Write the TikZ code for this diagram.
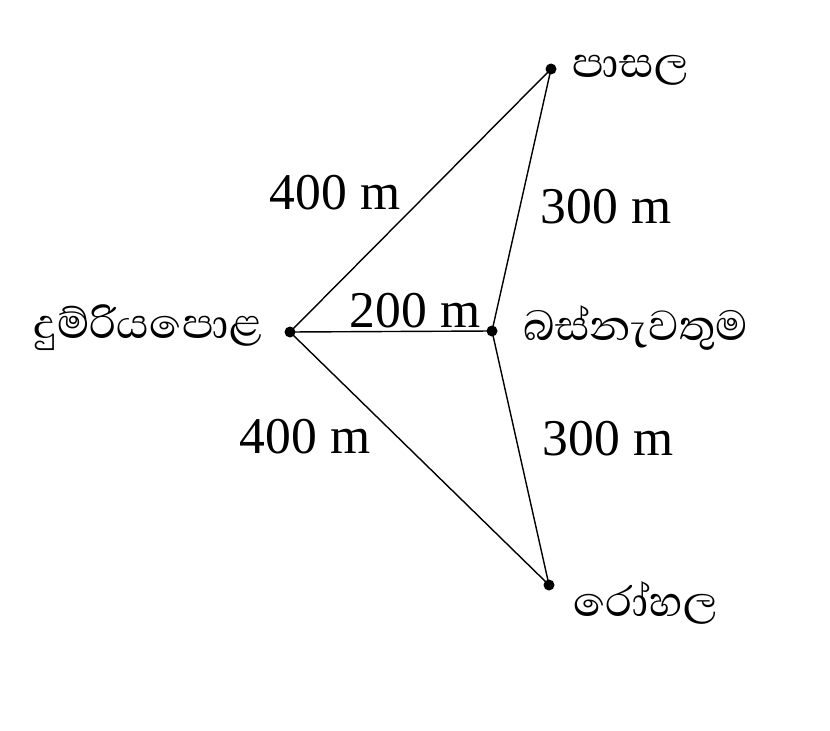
\documentclass[tikz,border=0pt]{standalone}
\usepackage{fontspec}
\setmainfont{Liberation Serif}
\newfontfamily\sinfont[Script=Sinhala]{Abhaya Libre}
\begin{document}
\begin{tikzpicture}[x=0.03cm,y=-0.03cm,
  dot/.style={circle,fill=black,inner sep=0pt,minimum size=0.33cm},
  place/.style={font=\sinfont\fontsize{46}{48}\selectfont,inner sep=0pt},
  dist/.style={font=\fontsize{44}{46}\selectfont,inner sep=0pt},
  edge/.style={line width=1.2pt}]
\useasboundingbox[fill=white] (0,0) rectangle (830,731);
\node[dot] (st) at (290,332) {};
\node[dot] (bs) at (492,331) {};
\node[dot] (sc) at (551,69) {};
\node[dot] (ho) at (549,585) {};
\draw[edge] (st.center) -- (sc.center);
\draw[edge] (st.center) -- (bs.center);
\draw[edge] (st.center) -- (ho.center);
\draw[edge] (bs.center) -- (sc.center);
\draw[edge] (bs.center) -- (ho.center);
\node[place,anchor=west] (lsc) at (572,70) {පාසල};
\node[place,anchor=east] (lst) at (262,328) {දුම්රියපොළ};
\node[place,anchor=west] (lbs) at (523,328) {බස්නැවතුම};
\node[place,anchor=west] (lho) at (573,603) {රෝහල};
\node[dist] (d1) at (335,193) {400 m};
\node[dist] (d2) at (606,207) {300 m};
\node[dist] (d3) at (415,311) {200 m};
\node[dist] (d4) at (305,437) {400 m};
\node[dist] (d5) at (608,439) {300 m};
\end{tikzpicture}
\end{document}
